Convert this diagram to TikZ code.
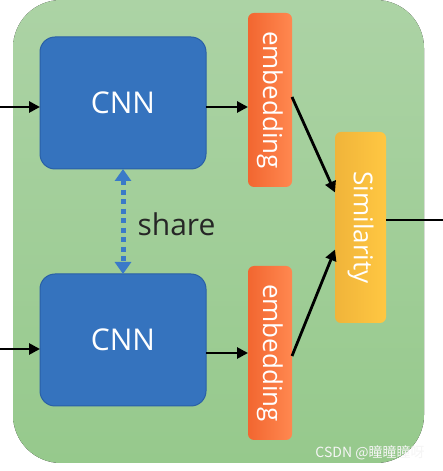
\documentclass[tikz,border=0pt]{standalone}
\usepackage{fontspec}
\usepackage{graphicx}
\setmainfont{Open Sans}
\newfontfamily\cjkfont{Noto Sans CJK SC}
\usetikzlibrary{arrows.meta, positioning}

\definecolor{bgtop}{RGB}{172,211,165}
\definecolor{bgbottom}{RGB}{150,201,140}
\definecolor{cnnblue}{RGB}{53,115,190}
\definecolor{cnnedge}{RGB}{42,96,166}
\definecolor{embleft}{RGB}{242,102,48}
\definecolor{embright}{RGB}{255,136,80}
\definecolor{simleft}{RGB}{240,180,58}
\definecolor{simright}{RGB}{255,199,66}
\definecolor{shareblue}{RGB}{58,122,200}

\begin{document}
\begin{tikzpicture}[x=1pt,y=1pt]

	\tikzset{
		cnnbox/.style={
				rectangle, rounded corners=15pt, draw=cnnedge, fill=cnnblue, line width=1pt, outer sep=0pt, minimum width=166pt, minimum height=132pt, text=white, font=\fontsize{30}{36}\selectfont
			},
		embbox/.style={
				rectangle, rounded corners=6pt, left color=embleft, right color=embright, outer sep=0pt, inner sep=0pt, minimum width=44pt, minimum height=174pt, text=white, font=\fontsize{26}{31}\selectfont
			},
		simbox/.style={
				rectangle, rounded corners=6pt, left color=simleft, right color=simright, outer sep=0pt, inner sep=0pt, minimum width=51pt, minimum height=191pt, text=white, font=\fontsize{26}{31}\selectfont
			},
		link/.style={
				line width=2.8pt, -{Triangle[length=11pt, width=11pt]}
			},
		sharelink/.style={
				shareblue, line width=5pt, dash pattern=on 5pt off 4.5pt, {Triangle[length=12pt, width=16pt]}-{Triangle[length=12pt, width=16pt]}
			},
	}

	\fill[white] (0,0) rectangle (443,471);
	\useasboundingbox (0,0) rectangle (443,471);
	\fill[top color=bgtop, bottom color=bgbottom, rounded corners=48pt] (13,8) rectangle (424,471);

	\node[cnnbox] (cnn1) at (123,368) {CNN};
	\node[cnnbox, below=105pt of cnn1] (cnn2) {CNN};
	\node[embbox] (emb1) at (270,371) {\rotatebox{-90}{embedding}};
	\node[embbox] (emb2) at (270,118) {\rotatebox{-90}{embedding}};
	\node[simbox] (sim) at (360.5,243.5) {\rotatebox{-90}{Similarity}};

	\coordinate (in1) at (0,364);
	\coordinate (in2) at (0,122);
	\coordinate (out) at (443,251);

	\draw[link] (in1) to (in1 -| cnn1.west);
	\draw[link] (in2) to (in2 -| cnn2.west);
	\draw[link] (cnn1.east |- in1) to (emb1.west |- in1);
	\draw[link] (cnn2.east |- emb2) to (emb2.west);
	\draw[link] ([yshift=3pt]emb1.east) to ([yshift=35pt]sim.west);
	\draw[link] ([yshift=-3pt]emb2.east) to ([yshift=-22pt]sim.west);
	\draw[line width=2.8pt] (sim.east |- out) to (out);

	\draw[sharelink] (cnn1) to (cnn2);
	\node[anchor=west, text={black!85}, font=\fontsize{30}{36}\selectfont] (share) at (134,247) {share};

	\node[text={white!92!gray}, font=\cjkfont\fontsize{14}{17}\selectfont] (mark) at (370,18) {CSDN @瞳瞳瞳呀};
\end{tikzpicture}
\end{document}
